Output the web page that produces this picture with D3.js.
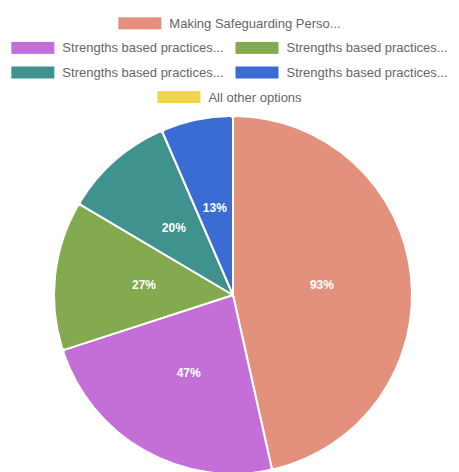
<!DOCTYPE html>
<html>
<head>
<meta charset="utf-8">
<script src="https://cdn.jsdelivr.net/npm/d3@7"></script>
<style>
  html, body { margin: 0; padding: 0; background: #fff; }
  svg { display: block; }
</style>
</head>
<body>
<svg id="chart" width="459" height="472"></svg>
<script>
// Responses per option (percent of respondents)
const labels = [
  "Making Safeguarding Perso...",
  "Strengths based practices...",
  "Strengths based practices...",
  "Strengths based practices...",
  "Strengths based practices...",
  "All other options"
];
const values = [93, 47, 27, 20, 13, 0];
const colors = ["#E3907D", "#C36FD7", "#84AA4F", "#3F928E", "#3A6CD3", "#F1D54A"];
// Legend items grouped by row
const legendRows = [[0], [1, 2], [3, 4], [5]];

const W = 459, H = 472;
const svg = d3.select("#chart");

// ---- Legend ----
const boxW = 43, boxH = 12, boxGap = 8, itemPad = 12, rowStep = 24.6, firstRowY = 23.3;
const legend = svg.append("g").attr("class", "legend");

legendRows.forEach((row, ri) => {
  const y = firstRowY + ri * rowStep;
  const rowG = legend.append("g");
  let x = 0;
  row.forEach((idx, k) => {
    const item = rowG.append("g").attr("transform", `translate(${x},0)`);
    item.append("rect")
      .attr("x", 0).attr("y", y - boxH / 2)
      .attr("width", boxW).attr("height", boxH)
      .attr("fill", colors[idx]);
    const t = item.append("text")
      .attr("x", boxW + boxGap).attr("y", y)
      .attr("dy", "0.35em")
      .attr("font-family", "'Liberation Sans', Arial, sans-serif")
      .attr("font-size", 13)
      .attr("fill", "#666")
      .text(labels[idx]);
    const tw = t.node().getComputedTextLength();
    x += boxW + boxGap + tw + (k < row.length - 1 ? itemPad : 0);
  });
  rowG.attr("transform", `translate(${(W - x) / 2},0)`);
});

// ---- Pie ----
const cx = 233, cy = 295, radius = 179;
const pie = d3.pie().sort(null).value(d => d.value);
const data = values.map((v, i) => ({ label: labels[i], value: v, color: colors[i] }));
const arcs = pie(data).filter(a => a.data.value > 0);

const arc = d3.arc().innerRadius(0).outerRadius(radius).cornerRadius(3);
const labelArc = d3.arc().innerRadius(0).outerRadius(radius);

const g = svg.append("g").attr("transform", `translate(${cx},${cy})`);
g.selectAll("path.slice")
  .data(arcs)
  .join("path")
  .attr("class", "slice")
  .attr("d", arc)
  .attr("fill", d => d.data.color)
  .attr("stroke", "#fff")
  .attr("stroke-width", 2)
  .attr("stroke-linejoin", "round");

g.selectAll("text.val")
  .data(arcs)
  .join("text")
  .attr("class", "val")
  .attr("transform", d => `translate(${labelArc.centroid(d)})`)
  .attr("text-anchor", "middle")
  .attr("dy", "0.35em")
  .attr("font-family", "'Liberation Sans', Arial, sans-serif")
  .attr("font-weight", "bold")
  .attr("font-size", 12)
  .attr("fill", "#fff")
  .text(d => d.data.value + "%");
</script>
</body>
</html>
